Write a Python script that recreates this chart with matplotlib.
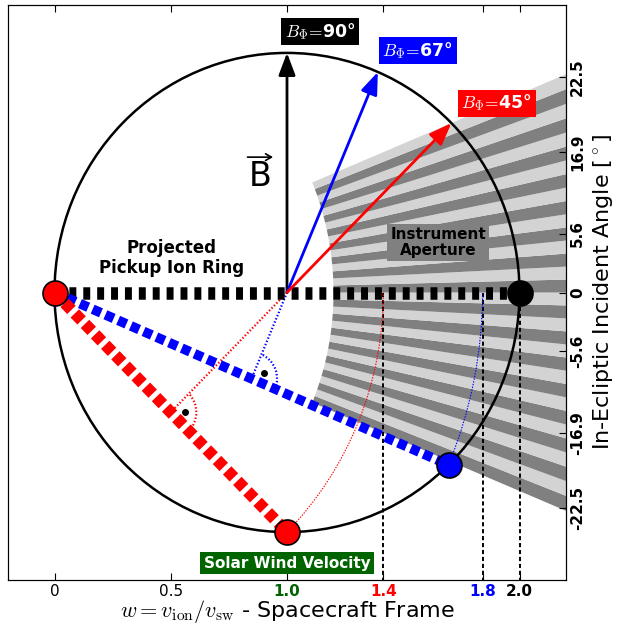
import numpy as np
import matplotlib
matplotlib.use('Agg')
import matplotlib.pyplot as plt
from matplotlib.patches import Wedge, Arc, Circle

plt.rcParams['mathtext.fontset'] = 'cm'
plt.rcParams['lines.scale_dashes'] = False

# magnetic field azimuths and their colours
b_angles = [90, 67, 45]
b_colors = ['black', 'blue', 'red']
b_label_xy = [(0.99, 1.09), (1.41, 1.01), (1.75, 0.79)]

# instrument aperture: +-22.5 deg fan split into stripes
aperture_half = 22.5
n_stripes = 32
aperture_inner = 1.2
aperture_outer = 3.5

# bottom axis ticks (w values) and labels
w_tick_vals = [0.0, 0.5, 1.0, 2 * np.sin(np.radians(45)), 2 * np.sin(np.radians(67)), 2.0]
w_tick_labels = ['0', '0.5', '1.0', '1.4', '1.8', '2.0']
w_tick_colors = ['black', 'black', 'darkgreen', 'red', 'blue', 'black']

# right axis ticks (incident angle)
angle_tick_pos = [0.90, 0.585, 0.245, 0.0, -0.245, -0.585, -0.90]
angle_tick_labels = ['22.5', '16.9', '5.6', '0', '-5.6', '-16.9', '-22.5']

chord_lw = {90: 9, 67: 7, 45: 8.5}
chord_dash = {90: (5, 5), 67: (6.5, 3.5), 45: (7, 3.5)}

fig = plt.figure(figsize=(6.17, 6.28), dpi=100)
ax = fig.add_axes([8 / 617, 48 / 628, 558 / 617, 575 / 628])
ax.set_xlim(-0.2, 2.2)
ax.set_ylim(-1.2, 1.2)

# striped aperture fan centred on the origin
step = 2 * aperture_half / n_stripes
for i in range(n_stripes):
    t1 = -aperture_half + i * step
    col = '#d3d3d3' if i % 2 else '#808080'
    ax.add_patch(Wedge((0, 0), aperture_outer, t1, t1 + step,
                       width=aperture_outer - aperture_inner,
                       facecolor=col, edgecolor='none', zorder=1))

# projected pickup ion ring
ax.add_patch(Circle((1, 0), 1, fill=False, edgecolor='black', lw=1.8, zorder=3))

for phi, col, lxy in zip(b_angles, b_colors, b_label_xy):
    p = np.radians(phi)
    tip = (1 + np.cos(p), np.sin(p))
    ax.annotate('', xy=tip, xytext=(1, 0), zorder=5,
                arrowprops=dict(arrowstyle='-|>,head_length=0.45,head_width=0.17',
                                color=col, lw=2, mutation_scale=30,
                                shrinkA=0, shrinkB=0))
    ax.text(lxy[0], lxy[1], r'$B_\Phi\!=\!$' + '%d°' % phi, color='white',
            fontsize=12.5, fontweight='bold', ha='left', va='center', zorder=7,
            bbox=dict(facecolor=col, edgecolor='none', pad=2.5))

    # ring seen edge-on: chord from the origin perpendicular to B
    th = p - np.pi / 2
    w = 2 * np.sin(p)
    end = (w * np.cos(th), w * np.sin(th))
    ax.plot([0, end[0]], [0, end[1]], color=col, lw=chord_lw[phi],
            dashes=chord_dash[phi], solid_capstyle='butt', zorder=4)
    ax.plot(end[0], end[1], 'o', color=col, mec='black', mew=1.2, ms=18, zorder=6)

    # projection of the endpoint down to the w axis
    ax.plot([w, w], [0, -1.2], color='black', lw=1.4, dashes=(3, 2), zorder=2)

    if phi == 90:
        continue

    # B direction continued back to the chord, with right-angle mark
    foot = (np.cos(th) * np.cos(th), np.cos(th) * np.sin(th))
    ax.plot([1, foot[0]], [0, foot[1]], color=col, lw=1.6, dashes=(1, 1.5), zorder=3)
    ax.add_patch(Arc(foot, 0.22, 0.22, theta1=np.degrees(th), theta2=phi,
                     color=col, lw=1.6, ls=(0, (1, 1.5)), zorder=3))
    mid = (th + p) / 2
    ax.plot(foot[0] + 0.06 * np.cos(mid), foot[1] + 0.06 * np.sin(mid), 'o',
            color='black', ms=4, zorder=3)

    # rotate endpoint about the origin onto the w axis
    ax.add_patch(Arc((0, 0), 2 * w, 2 * w, theta1=np.degrees(th), theta2=0,
                     color=col, lw=0.8, ls=(0, (1, 1)), zorder=3))

# ion at rest in the spacecraft frame
ax.plot(0, 0, 'o', color='red', mec='black', mew=1.2, ms=18, zorder=6)

# vector B symbol: letter plus a thin arrow over it
ax.text(0.885, 0.485, 'B', fontsize=24, ha='center', va='center', zorder=7)
ax.annotate('', xy=(0.94, 0.565), xytext=(0.83, 0.565), zorder=7,
            arrowprops=dict(arrowstyle='->,head_length=0.35,head_width=0.2',
                            color='black', lw=1.2, mutation_scale=12,
                            shrinkA=0, shrinkB=0))

ax.text(0.505, 0.145, 'Projected\nPickup Ion Ring', fontsize=12, fontweight='bold',
        ha='center', va='center', linespacing=1.15, zorder=7)
ax.text(1.65, 0.21, 'Instrument\nAperture', fontsize=11, fontweight='bold',
        ha='center', va='center', linespacing=1.1, zorder=7,
        bbox=dict(facecolor='#808080', edgecolor='none', pad=2))
ax.text(1.0, -1.13, 'Solar Wind Velocity', fontsize=11, fontweight='bold',
        color='white', ha='center', va='center', zorder=7,
        bbox=dict(facecolor='darkgreen', edgecolor='none', pad=2.5))

ax.set_xticks(w_tick_vals)
ax.set_xticklabels(w_tick_labels, fontsize=11)
for lab, col in zip(ax.get_xticklabels(), w_tick_colors):
    lab.set_color(col)
    if col != 'black' or lab.get_text() == '2.0':
        lab.set_fontweight('bold')
ax.tick_params(axis='x', direction='in', top=True, length=5, pad=3)
ax.set_yticks([])
ax.set_xlabel(r'$w = v_{\rm ion}/v_{\rm sw}$ - Spacecraft Frame', fontsize=16, labelpad=-1)

ax2 = ax.twinx()
ax2.set_ylim(ax.get_ylim())
ax2.set_yticks(angle_tick_pos)
ax2.set_yticklabels(angle_tick_labels, fontsize=11, fontweight='bold',
                    rotation=90, va='center')
ax2.tick_params(axis='y', direction='in', length=5, pad=3)
ax2.set_ylabel(r'In-Ecliptic Incident Angle [$^\circ$]', fontsize=16, labelpad=4)

fig.savefig('out.png', dpi=100)
